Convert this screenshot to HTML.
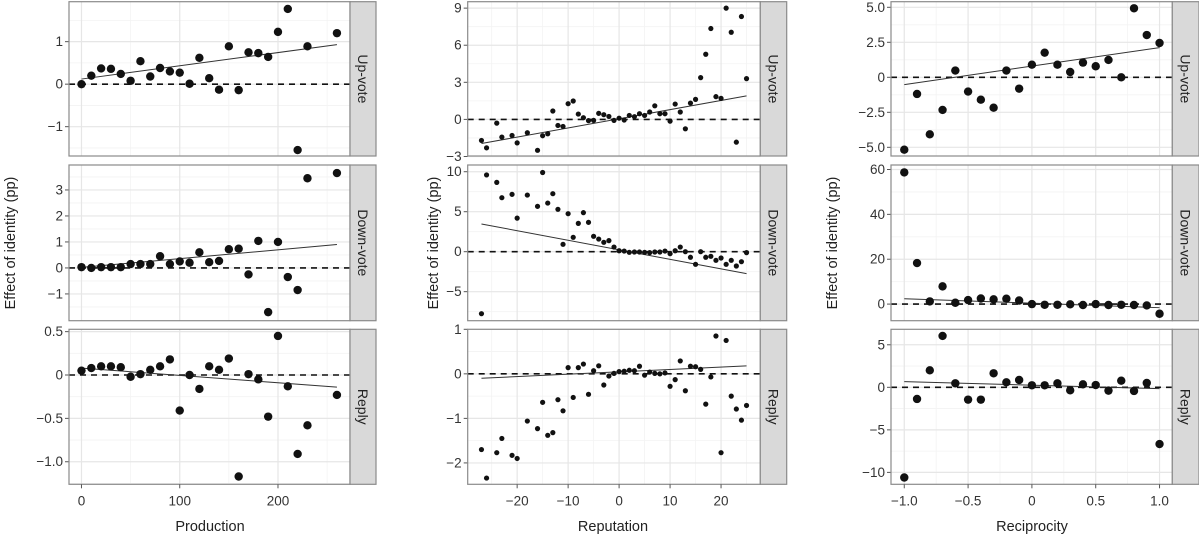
<!DOCTYPE html>
<html><head><meta charset="utf-8">
<style>
html,body{margin:0;padding:0;background:#fff;}
svg{display:block;font-family:"Liberation Sans",sans-serif;}
</style></head>
<body>
<svg id="chart" width="1199" height="535" viewBox="0 0 1199 535"></svg>
<script>
// ---- data ----
const prodX = [0,10,20,30,40,50,60,70,80,90,100,110,120,130,140,150,160,170,180,190,200,210,220,230,260];
const prodUp = [0,0.2,0.37,0.36,0.24,0.08,0.54,0.18,0.38,0.3,0.27,0.01,0.62,0.14,-0.13,0.89,-0.14,0.75,0.73,0.64,1.23,1.77,-1.55,0.89,1.2];
const prodDown = [0.03,0,0.03,0.03,0.03,0.15,0.15,0.15,0.45,0.15,0.25,0.2,0.6,0.22,0.27,0.72,0.74,-0.25,1.04,-1.7,1.0,-0.35,-0.85,3.45,3.65];
const prodReply = [0.05,0.08,0.1,0.1,0.09,-0.02,0.01,0.06,0.1,0.18,-0.41,0,-0.16,0.1,0.06,0.19,-1.17,0.01,-0.05,-0.48,0.45,-0.13,-0.91,-0.58,-0.23];
const prodFitUp = [0.12,0.93], prodFitDown = [0.02,0.9], prodFitReply = [0.08,-0.14];

const repX = [-27,-26,-24,-23,-21,-20,-18,-16,-15,-14,-13,-12,-11,-10,-9,-8,-7,-6,-5,-4,-3,-2,-1,0,1,2,3,4,5,6,7,8,9,10,11,12,13,14,15,16,17,18,19,20,21,22,23,24,25];
const repUp = [-1.7,-2.3,-0.3,-1.43,-1.3,-1.9,-1.08,-2.5,-1.32,-1.16,0.68,-0.49,-0.57,1.27,1.49,0.43,0.14,-0.1,-0.08,0.49,0.38,0.24,-0.08,0.1,-0.05,0.32,0.22,0.46,0.32,0.6,1.1,0.46,0.46,-0.14,1.24,0.6,-0.76,1.32,1.62,3.38,5.27,7.35,1.84,1.7,9.0,7.05,-1.84,8.32,3.3];
const repDown = [-7.75,9.6,8.67,6.75,7.17,4.2,7.08,5.67,9.9,6.08,7.25,5.3,0.92,4.75,1.8,3.54,4.88,3.67,1.92,1.58,1.17,1.38,0.58,0.12,0.08,-0.08,-0.04,-0.04,-0.08,-0.12,-0.04,-0.04,0.08,-0.25,0.12,0.58,0,-0.7,-1.58,0,-0.7,-0.58,-1.08,-0.79,-1.58,-1.08,-1.79,-1.25,-0.12];
const repReply = [-1.7,-2.34,-1.77,-1.45,-1.83,-1.9,-1.06,-1.23,-0.64,-1.38,-1.32,-0.58,-0.83,0.14,-0.53,0.14,0.22,-0.46,0.07,0.18,-0.25,-0.05,0.01,0.05,0.06,0.08,0.07,0.17,-0.03,0.04,0.01,0,0.02,-0.28,-0.13,0.29,-0.38,0.17,0.16,0.1,-0.68,-0.07,0.85,-1.77,0.75,-0.5,-0.79,-1.04,-0.71];
const repFitUp = [-1.95,1.9], repFitDown = [3.46,-2.75], repFitReply = [-0.1,0.18];

const recX = [-1,-0.9,-0.8,-0.7,-0.6,-0.5,-0.4,-0.3,-0.2,-0.1,0,0.1,0.2,0.3,0.4,0.5,0.6,0.7,0.8,0.9,1];
const recUp = [-5.17,-1.19,-4.07,-2.33,0.48,-1.02,-1.6,-2.17,0.48,-0.81,0.9,1.76,0.9,0.38,1.05,0.79,1.24,0,4.93,3.02,2.45];
const recDown = [58.7,18.3,1.2,7.9,0.6,1.8,2.5,2.1,2.4,1.6,0,-0.3,-0.3,-0.1,-0.4,0,-0.4,-0.3,-0.4,-0.6,-4.3];
const recReply = [-10.6,-1.37,2.0,6.04,0.47,-1.45,-1.45,1.65,0.59,0.86,0.24,0.24,0.47,-0.35,0.35,0.27,-0.39,0.78,-0.43,0.51,-6.67];
const recFitUp = [-0.52,2.12], recFitDown = [2.4,-1.6], recFitReply = [0.67,-0.16];

const rowLabels = ["Up-vote","Down-vote","Reply"];
const prodXTicks = [0,100,200], prodXMinor = [50,150,250];
const repXTicks = [-20,-10,0,10,20], repXMinor = [-25,-15,-5,5,15,25];
const recXTicks = [-1,-0.5,0,0.5,1], recXTickLabels = ["\u22121.0","\u22120.5","0","0.5","1.0"], recXMinor = [-0.75,-0.25,0.25,0.75];

// ---- layout ----
const NS="http://www.w3.org/2000/svg";
const svg=document.getElementById('chart');
function el(tag,attrs,parent){const e=document.createElementNS(NS,tag);for(const k in attrs)e.setAttribute(k,attrs[k]);(parent||svg).appendChild(e);return e;}
const rowsPx=[[1.7,156],[165,320.7],[329.3,484.3]];
const fmt=v=>(v<0?"\u2212":"")+Math.abs(v);
function fmt1(v){return v===0?"0":(v<0?"\u2212":"")+Math.abs(v).toFixed(1);}

const cols=[
 {name:"production",title:"Production",px:[69,350],dom:[-12.7,273.3],strip:376,x:prodX,r:4.2,
  xt:prodXTicks,xl:prodXTicks.map(fmt),xm:prodXMinor,titleX:210,yTitleX:10,
  rows:[{y:prodUp,fit:prodFitUp,dom:[1.94,-1.69],t:[-1,0,1],l:["\u22121","0","1"],m:[-1.5,-0.5,0.5,1.5]},
        {y:prodDown,fit:prodFitDown,dom:[3.96,-2.03],t:[-1,0,1,2,3],l:["\u22121","0","1","2","3"],m:[-1.5,-0.5,0.5,1.5,2.5,3.5]},
        {y:prodReply,fit:prodFitReply,dom:[0.527,-1.26],t:[-1,-0.5,0,0.5],l:["\u22121.0","\u22120.5","0","0.5"],m:[-1.25,-0.75,-0.25,0.25]}]},
 {name:"reputation",title:"Reputation",px:[467.7,760.3],dom:[-29.7,27.7],strip:786.7,x:repX,r:2.6,
  xt:repXTicks,xl:repXTicks.map(fmt),xm:repXMinor,titleX:613,yTitleX:433,
  rows:[{y:repUp,fit:repFitUp,dom:[9.52,-2.96],t:[-3,0,3,6,9],l:["\u22123","0","3","6","9"],m:[-1.5,1.5,4.5,7.5]},
        {y:repDown,fit:repFitDown,dom:[10.84,-8.63],t:[-5,0,5,10],l:["\u22125","0","5","10"],m:[-7.5,-2.5,2.5,7.5]},
        {y:repReply,fit:repFitReply,dom:[1.0,-2.48],t:[-2,-1,0,1],l:["\u22122","\u22121","0","1"],m:[-1.5,-0.5,0.5]}]},
 {name:"reciprocity",title:"Reciprocity",px:[891,1172.3],dom:[-1.104,1.1],strip:1199,x:recX,r:4.2,
  xt:recXTicks,xl:recXTickLabels,xm:recXMinor,titleX:1032,yTitleX:832,
  rows:[{y:recUp,fit:recFitUp,dom:[5.4,-5.62],t:[-5,-2.5,0,2.5,5],l:["\u22125.0","\u22122.5","0","2.5","5.0"],m:[-3.75,-1.25,1.25,3.75]},
        {y:recDown,fit:recFitDown,dom:[62,-7.4],t:[0,20,40,60],l:["0","20","40","60"],m:[10,30,50]},
        {y:recReply,fit:recFitReply,dom:[6.82,-11.4],t:[-10,-5,0,5],l:["\u221210","\u22125","0","5"],m:[-7.5,-2.5,2.5]}]}
];

cols.forEach(c=>{
 const sx=v=>c.px[0]+(v-c.dom[0])/(c.dom[1]-c.dom[0])*(c.px[1]-c.px[0]);
 c.rows.forEach((r,ri)=>{
  const [y0,y1]=rowsPx[ri];
  const sy=v=>y0+(r.dom[0]-v)/(r.dom[0]-r.dom[1])*(y1-y0);
  const g=el('g',{});
  
  
  el('rect',{x:c.px[0],y:y0,width:c.px[1]-c.px[0],height:y1-y0,fill:'#fff'},g);
  c.xm.forEach(v=>{const x=sx(v);if(x>c.px[0]&&x<c.px[1])el('line',{x1:x,x2:x,y1:y0,y2:y1,stroke:'#f3f3f3','stroke-width':0.8},g);});
  r.m.forEach(v=>{const y=sy(v);if(y>y0&&y<y1)el('line',{x1:c.px[0],x2:c.px[1],y1:y,y2:y,stroke:'#f3f3f3','stroke-width':0.8},g);});
  c.xt.forEach(v=>{const x=sx(v);el('line',{x1:x,x2:x,y1:y0,y2:y1,stroke:'#e6e6e6','stroke-width':1.2},g);});
  r.t.forEach((v,i)=>{const y=sy(v);el('line',{x1:c.px[0],x2:c.px[1],y1:y,y2:y,stroke:'#e6e6e6','stroke-width':1.2},g);
    el('line',{x1:c.px[0]-4,x2:c.px[0],y1:y,y2:y,stroke:'#555','stroke-width':1},g);
    const t=el('text',{x:c.px[0]-6,y:y+4.5,'text-anchor':'end','font-size':13.5,fill:'#333'},g);t.textContent=r.l[i];
    
    });
  el('line',{x1:c.px[0],x2:c.px[1],y1:sy(0),y2:sy(0),stroke:'#111','stroke-width':1.6,'stroke-dasharray':'6,5'},g);
  const fx0=c.x[0],fx1=c.x[c.x.length-1];
  const fl=el('line',{x1:sx(fx0),x2:sx(fx1),y1:sy(r.fit[0]),y2:sy(r.fit[1]),stroke:'#333','stroke-width':1},g);
  
  
  c.x.forEach((xv,i)=>{const p=el('circle',{cx:sx(xv),cy:sy(r.y[i]),r:c.r,fill:'#111'},g);
    
    });
  el('rect',{x:c.px[0],y:y0,width:c.px[1]-c.px[0],height:y1-y0,fill:'none',stroke:'#8a8a8a','stroke-width':1.2},g);
  el('rect',{x:c.px[1],y:y0,width:c.strip-c.px[1],height:y1-y0,fill:'#d9d9d9',stroke:'#8a8a8a','stroke-width':1.2},g);
  const mx=(c.px[1]+c.strip)/2, my=(y0+y1)/2;
  const st=el('text',{x:mx,y:my,'text-anchor':'middle','font-size':14,fill:'#222',transform:`rotate(90 ${mx} ${my})`,dy:5},g);
  st.textContent=rowLabels[ri];
  
  
  if(ri===2){
   c.xt.forEach((v,i)=>{const x=sx(v);el('line',{x1:x,x2:x,y1:y1,y2:y1+4,stroke:'#555','stroke-width':1},g);
    const t=el('text',{x:x,y:y1+21,'text-anchor':'middle','font-size':13.5,fill:'#333'},g);t.textContent=c.xl[i];
    
    });
  }
 });
 const xt=el('text',{x:c.titleX,y:531,'text-anchor':'middle','font-size':14.5,fill:'#222'});
 xt.textContent=c.title;
 
 
 const yt=el('text',{x:c.yTitleX,y:243,'text-anchor':'middle','font-size':14.5,fill:'#222',transform:`rotate(-90 ${c.yTitleX} 243)`,dy:5});
 yt.textContent="Effect of identity (pp)";
 
 
});
</script>
</body></html>
